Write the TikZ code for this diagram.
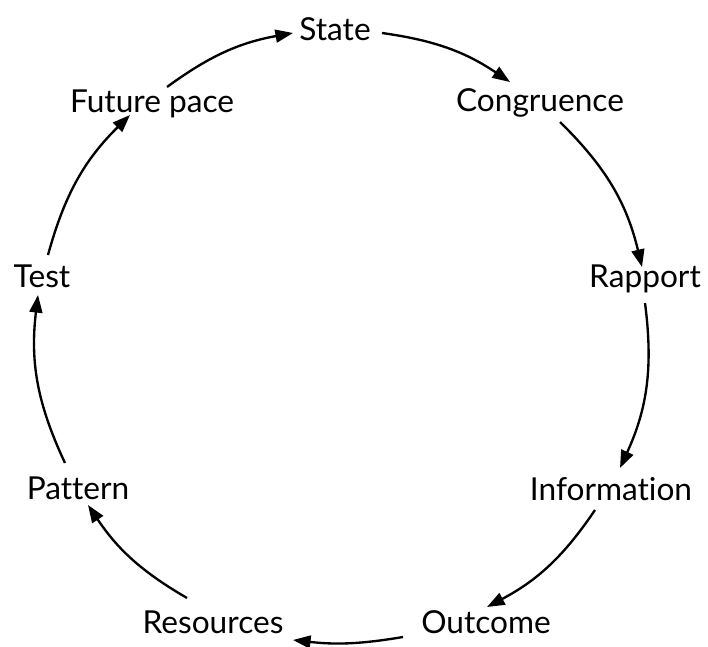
\documentclass[tikz,border=0pt]{standalone}
\usepackage{fontspec}
\setmainfont[Ligatures={NoCommon}]{Lato}
\usetikzlibrary{arrows.meta,calc}
\tikzset{
  lbl/.style={inner sep=0pt, font=\fontsize{27}{30}\selectfont, text height=0.72em, text depth=0pt, anchor=center},
  arr/.style={line width=2pt, -{Triangle[length=15pt,width=11pt]}}
}
\begin{document}
\begin{tikzpicture}[x=0.03cm,y=-0.03cm]
\useasboundingbox (0,0) rectangle (708,646);
\node[lbl] (state) at (335,36) {State};
\node[lbl] (cong) at (540,107) {Congruence};
\node[lbl] (rapp) at (645,283) {Rapport};
\node[lbl] (info) at (611,496) {Information};
\node[lbl] (outc) at (486,629) {Outcome};
\node[lbl] (reso) at (213,629) {Resources};
\node[lbl] (patt) at (78,495) {Pattern};
\node[lbl] (test) at (42,283) {Test};
\node[lbl] (fut) at (152,108) {Future pace};

\draw[arr] ($(state)+(47,-3)$) to[bend left=13] ($(cong)+(-30,-25)$);
\draw[arr] ($(cong)+(20,15)$) to[bend left=16] ($(rapp)+(-3,-16)$);
\draw[arr] ($(rapp)+(0,20)$) to[bend left=16] ($(info)+(9,-28)$);
\draw[arr] ($(info)+(-16,14)$) to[bend left=14] ($(outc)+(1,-22)$);
\draw[arr] ($(outc)+(-83,8)$) to[bend left=8] ($(reso)+(80,11)$);
\draw[arr] ($(reso)+(-26,-31)$) to[bend left=13] ($(patt)+(10,10)$);
\draw[arr] ($(patt)+(-13,-32)$) to[bend left=16] ($(test)+(-4,12)$);
\draw[arr] ($(test)+(6,-28)$) to[bend left=15] ($(fut)+(-22,7)$);
\draw[arr] ($(fut)+(15,-21)$) to[bend left=13] ($(state)+(-42,-3)$);
\end{tikzpicture}
\end{document}
